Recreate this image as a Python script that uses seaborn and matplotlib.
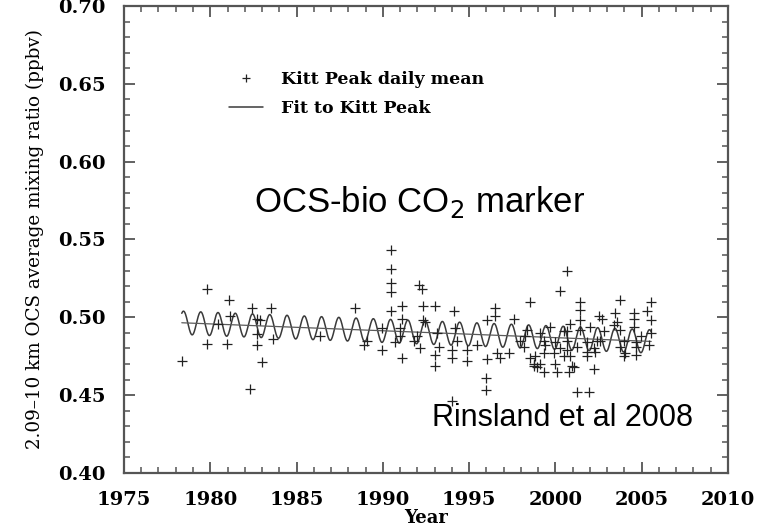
import numpy as np
import pandas as pd
import matplotlib
matplotlib.use("Agg")
import matplotlib.pyplot as plt
from matplotlib.lines import Line2D
from matplotlib.ticker import MultipleLocator
import seaborn as sns

# Kitt Peak daily-mean 2.09-10 km OCS mixing ratios (ppbv)
obs_year = [
    1978.38, 1979.80, 1981.11, 1982.41, 1983.51, 1981.15, 1980.47, 1982.70, 1982.89, 1982.70,
    1979.80, 1980.99, 1982.70, 1983.66, 1982.99, 1982.31, 1986.37, 1988.40, 1990.47, 1990.47,
    1990.47, 1990.47, 1990.47, 1991.11, 1992.07, 1992.27, 1992.33, 1993.04, 1994.10, 1992.33,
    1992.46, 1991.11, 1988.88, 1989.95, 1990.72, 1991.01, 1991.11, 1992.17, 1991.78, 1993.04,
    1993.04, 1993.23, 1994.01, 1994.01, 1994.88, 1994.88, 1994.20, 1995.46, 1996.04, 1996.52,
    1996.52, 1996.04, 1996.00, 1996.00, 1994.01, 1996.62, 1996.81, 1997.29, 1997.58, 1998.55,
    1998.36, 1998.55, 1998.84, 1999.32, 1999.13, 1989.95, 1991.01, 1991.98, 1993.14, 1994.30,
    1997.97, 1998.26, 2000.68, 2000.25, 2001.41, 2001.45, 2003.77, 2005.51, 2005.32, 2005.51,
    2005.51, 2002.51, 2002.71, 2003.48, 2004.54, 2004.54, 2001.45, 2002.22, 2001.26, 2001.93,
    2000.10, 2000.77, 2000.00, 2000.97, 1998.74, 1998.94, 2000.48, 2000.68, 2001.84, 2001.84,
    1999.32, 2002.61, 2003.38, 2003.96, 2004.06, 2003.77, 2004.93, 2004.64, 2001.45, 1999.71,
    1999.13, 2000.68, 2003.58, 2004.54, 2000.87, 2002.03, 2000.48, 2002.80, 2003.77, 1999.32,
    2000.00, 2000.68, 2001.84, 2002.42, 2004.64, 2005.41, 1998.16, 1999.42, 2000.29, 2001.26,
    2002.22, 2004.64, 1999.90, 2000.87, 2002.32, 2003.96, 1998.74, 2001.06, 1989.07,
]
obs_ppbv = [
    0.472, 0.518, 0.511, 0.506, 0.506, 0.501, 0.496, 0.499, 0.498, 0.489,
    0.483, 0.483, 0.482, 0.486, 0.471, 0.454, 0.488, 0.506, 0.543, 0.531,
    0.522, 0.516, 0.504, 0.507, 0.521, 0.518, 0.507, 0.507, 0.504, 0.498,
    0.497, 0.499, 0.482, 0.479, 0.484, 0.488, 0.474, 0.480, 0.485, 0.476,
    0.469, 0.481, 0.479, 0.474, 0.479, 0.472, 0.493, 0.482, 0.498, 0.506,
    0.501, 0.473, 0.461, 0.453, 0.446, 0.477, 0.474, 0.477, 0.499, 0.510,
    0.492, 0.474, 0.475, 0.465, 0.470, 0.493, 0.493, 0.488, 0.490, 0.485,
    0.485, 0.488, 0.530, 0.517, 0.510, 0.505, 0.511, 0.510, 0.504, 0.498,
    0.490, 0.501, 0.499, 0.503, 0.503, 0.494, 0.498, 0.467, 0.452, 0.452,
    0.465, 0.465, 0.470, 0.469, 0.470, 0.468, 0.475, 0.479, 0.475, 0.478,
    0.477, 0.485, 0.495, 0.485, 0.477, 0.481, 0.488, 0.476, 0.492, 0.494,
    0.490, 0.491, 0.497, 0.499, 0.496, 0.494, 0.491, 0.491, 0.492, 0.485,
    0.484, 0.485, 0.484, 0.485, 0.484, 0.482, 0.481, 0.482, 0.480, 0.481,
    0.480, 0.481, 0.477, 0.475, 0.478, 0.475, 0.469, 0.468, 0.485,
]

# Fitted model: linear trend plus an annual cycle
fit_span = [1978.35, 2005.55]      # first / last year covered by the fit
fit_trend = [0.4965, 0.4845]       # trend value at the span ends (ppbv)
fit_season_amp = 0.0075            # seasonal amplitude (ppbv)
fit_season_peak = 0.45             # fraction of the year at the seasonal maximum

x_ticks = [1975, 1980, 1985, 1990, 1995, 2000, 2005, 2010]
y_ticks = [0.40, 0.45, 0.50, 0.55, 0.60, 0.65, 0.70]

sns.set_theme(style="ticks")
plt.rcParams["font.family"] = ["DejaVu Serif"]
plt.rcParams["text.color"] = "black"
plt.rcParams["axes.labelcolor"] = "black"

fig = plt.figure(figsize=(7.69, 5.29), dpi=100)
ax = fig.add_axes([0.1612, 0.1059, 0.7855, 0.8828])

obs = pd.DataFrame({"year": obs_year, "ppbv": obs_ppbv})

t = np.linspace(fit_span[0], fit_span[1], 2000)
trend = np.interp(t, fit_span, fit_trend)
fit = pd.DataFrame({
    "year": t,
    "trend": trend,
    "fit": trend + fit_season_amp * np.cos(2 * np.pi * (t - fit_season_peak)),
})

line_col = "#3a3a3a"
sns.lineplot(data=fit, x="year", y="fit", ax=ax, color=line_col, lw=1.1, estimator=None)
sns.lineplot(data=fit, x="year", y="trend", ax=ax, color="#5a5a5a", lw=0.9, estimator=None)
sns.scatterplot(data=obs, x="year", y="ppbv", ax=ax, marker="+", s=50,
                color="#222222", linewidth=0.9, zorder=3)

ax.set_xlim(x_ticks[0], x_ticks[-1])
ax.set_ylim(y_ticks[0], y_ticks[-1])
ax.set_xticks(x_ticks)
ax.set_yticks(y_ticks)
ax.set_xticklabels([str(v) for v in x_ticks])
ax.set_yticklabels([f"{v:.2f}" for v in y_ticks])
ax.xaxis.set_minor_locator(MultipleLocator(1))
ax.yaxis.set_minor_locator(MultipleLocator(0.01))

for s in ax.spines.values():
    s.set_visible(True)
    s.set_color("#555555")
    s.set_linewidth(1.6)
ax.tick_params(which="both", direction="in", top=True, right=True,
               color="#555555", labelcolor="black")
ax.tick_params(which="major", length=8, width=1.3, pad=13)
ax.tick_params(which="minor", length=4, width=1.1)
for lab in ax.get_xticklabels() + ax.get_yticklabels():
    lab.set_fontweight("bold")
    lab.set_fontsize(14)

ax.set_xlabel("Year", fontsize=13, fontweight="bold", labelpad=0)
ax.set_ylabel("2.09\u201310 km OCS average mixing ratio (ppbv)", fontsize=13.2, labelpad=10)

handles = [
    Line2D([], [], marker="+", linestyle="none", color="#222222", markersize=6, markeredgewidth=0.9),
    Line2D([], [], color=line_col, lw=1.1),
]
ax.legend(handles, ["Kitt Peak daily mean", "Fit to Kitt Peak"], loc="upper left",
          bbox_to_anchor=(0.16, 0.879), frameon=False, handlelength=1.95,
          handletextpad=1.0, labelspacing=0.66, borderpad=0,
          prop={"family": "DejaVu Serif", "weight": "bold", "size": 12.5})

ax.text(0.49, 0.559, "OCS-bio CO$_2$ marker", transform=ax.transAxes, ha="center",
        va="baseline", fontsize=25, family="Liberation Sans")
ax.text(0.726, 0.1006, "Rinsland et al 2008", transform=ax.transAxes, ha="center",
        va="baseline", fontsize=22, family="Liberation Sans")

fig.savefig("out.png", dpi=100)
